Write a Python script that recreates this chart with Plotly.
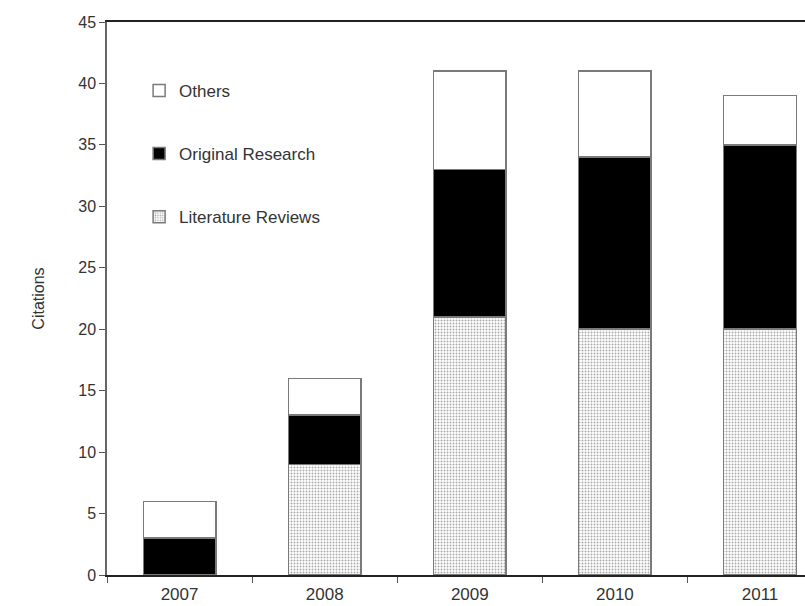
import plotly.graph_objects as go

years = ["2007", "2008", "2009", "2010", "2011"]
literature_reviews = [0, 9, 21, 20, 20]
original_research = [3, 4, 12, 14, 15]
others = [3, 3, 8, 7, 4]
y_ticks = [0, 5, 10, 15, 20, 25, 30, 35, 40, 45]

line_col = "#7a7a7a"
fig = go.Figure()
fig.add_trace(go.Bar(
    x=years, y=literature_reviews, name="Literature Reviews", legendgroup="a", legendrank=3,
    marker=dict(color="white", line=dict(color=line_col, width=1.5),
                pattern=dict(shape=".", fgcolor="#555555", bgcolor="#ffffff",
                             size=3, solidity=0.35)),
))
fig.add_trace(go.Bar(
    x=years, y=original_research, name="Original Research", legendgroup="b", legendrank=2,
    marker=dict(color="black", line=dict(color=line_col, width=1.5)),
))
fig.add_trace(go.Bar(
    x=years, y=others, name="Others", legendgroup="c", legendrank=1,
    marker=dict(color="white", line=dict(color=line_col, width=1.5)),
))

font_col = "#333333"
fig.update_layout(
    width=805, height=606,
    margin=dict(l=107, r=0, t=22, b=31),
    paper_bgcolor="white", plot_bgcolor="white",
    barmode="stack", bargap=0.5,
    font=dict(family="Liberation Sans, Arial, sans-serif", size=16, color=font_col),
    showlegend=True,
    legend=dict(x=0.046, y=0.908, xanchor="left", yanchor="top",
                traceorder="grouped", tracegroupgap=38,
                font=dict(size=17, color=font_col), itemwidth=30,
                bgcolor="rgba(0,0,0,0)"),
    xaxis=dict(range=[-0.5, 4.31], showline=True, linecolor="#222222", linewidth=1.5,
               mirror=True, ticks="outside", tickson="boundaries", ticklen=6,
               tickcolor="#555555", showgrid=False, ticklabelstandoff=3,
               tickfont=dict(size=17, color=font_col)),
    yaxis=dict(range=[0, 45], tickvals=y_ticks, showline=True, linecolor="#666666",
               linewidth=1.5, ticks="outside", ticklen=6, tickcolor="#555555",
               showgrid=False, zeroline=False,
               title=dict(text="Citations", font=dict(size=16, color=font_col), standoff=30),
               tickfont=dict(size=16, color=font_col)),
)

fig.write_html("out.html")
